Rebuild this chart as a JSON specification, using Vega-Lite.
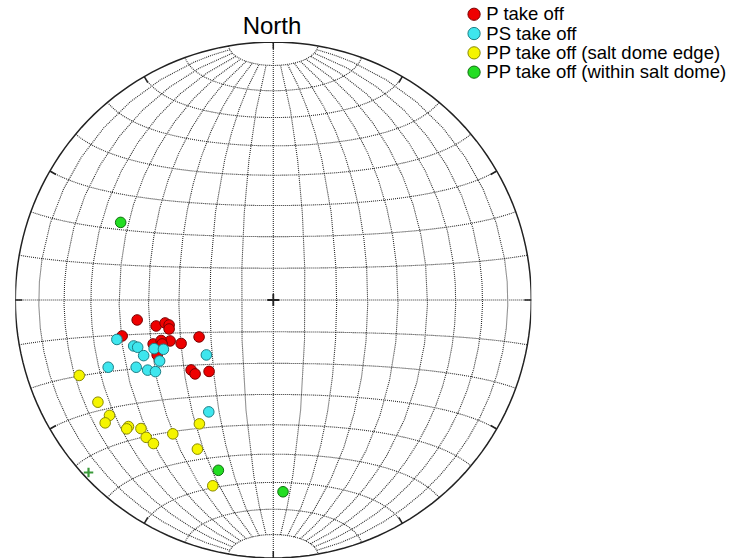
{
  "$schema": "https://vega.github.io/schema/vega-lite/v6.json",
  "width": 516,
  "height": 516,
  "autosize": "none",
  "padding": {"left": 15.3, "top": 42, "right": 200.7, "bottom": 2},
  "background": "white",
  "config": {"view": {"stroke": null}, "font": "Liberation Sans"},
  "projection": {"type": "azimuthalEqualArea", "clipAngle": 90, "scale": 182.43, "translate": [258, 258]},
  "datasets": {
    "ticks": [
      {"x": 0, "y": 1, "x2": 0, "y2": 0.973},
      {"x": 0.5, "y": 0.866, "x2": 0.4865, "y2": 0.8426},
      {"x": 0.866, "y": 0.5, "x2": 0.8426, "y2": 0.4865},
      {"x": 1, "y": 0, "x2": 0.973, "y2": 0},
      {"x": 0.866, "y": -0.5, "x2": 0.8426, "y2": -0.4865},
      {"x": 0.5, "y": -0.866, "x2": 0.4865, "y2": -0.8426},
      {"x": 0, "y": -1, "x2": 0, "y2": -0.973},
      {"x": -0.5, "y": -0.866, "x2": -0.4865, "y2": -0.8426},
      {"x": -0.866, "y": -0.5, "x2": -0.8426, "y2": -0.4865},
      {"x": -1, "y": 0, "x2": -0.973, "y2": 0},
      {"x": -0.866, "y": 0.5, "x2": -0.8426, "y2": 0.4865},
      {"x": -0.5, "y": 0.866, "x2": -0.4865, "y2": 0.8426}
    ],
    "points": [
      {"series": "P take off", "x": -0.5277, "y": -0.0774},
      {"series": "P take off", "x": -0.4541, "y": -0.1007},
      {"series": "P take off", "x": -0.4193, "y": -0.0890},
      {"series": "P take off", "x": -0.4038, "y": -0.0968},
      {"series": "P take off", "x": -0.4038, "y": -0.1123},
      {"series": "P take off", "x": -0.5858, "y": -0.1394},
      {"series": "P take off", "x": -0.2877, "y": -0.1432},
      {"series": "P take off", "x": -0.3999, "y": -0.1587},
      {"series": "P take off", "x": -0.3573, "y": -0.1684},
      {"series": "P take off", "x": -0.4657, "y": -0.1703},
      {"series": "P take off", "x": -0.4348, "y": -0.1568},
      {"series": "P take off", "x": -0.4309, "y": -0.1703},
      {"series": "P take off", "x": -0.4502, "y": -0.2129},
      {"series": "P take off", "x": -0.3186, "y": -0.2710},
      {"series": "P take off", "x": -0.3031, "y": -0.2865},
      {"series": "P take off", "x": -0.2489, "y": -0.2768},
      {"series": "PS take off", "x": -0.6063, "y": -0.1529},
      {"series": "PS take off", "x": -0.5412, "y": -0.1781},
      {"series": "PS take off", "x": -0.5257, "y": -0.1831},
      {"series": "PS take off", "x": -0.5025, "y": -0.2156},
      {"series": "PS take off", "x": -0.4619, "y": -0.1885},
      {"series": "PS take off", "x": -0.4259, "y": -0.1909},
      {"series": "PS take off", "x": -0.4406, "y": -0.2362},
      {"series": "PS take off", "x": -0.2594, "y": -0.2129},
      {"series": "PS take off", "x": -0.6400, "y": -0.2606},
      {"series": "PS take off", "x": -0.5315, "y": -0.2606},
      {"series": "PS take off", "x": -0.4870, "y": -0.2718},
      {"series": "PS take off", "x": -0.4568, "y": -0.2776},
      {"series": "PS take off", "x": -0.2501, "y": -0.4336},
      {"series": "PP take off (salt dome edge)", "x": -0.7522, "y": -0.2923},
      {"series": "PP take off (salt dome edge)", "x": -0.6798, "y": -0.3961},
      {"series": "PP take off (salt dome edge)", "x": -0.6349, "y": -0.4472},
      {"series": "PP take off (salt dome edge)", "x": -0.6516, "y": -0.4762},
      {"series": "PP take off (salt dome edge)", "x": -0.5614, "y": -0.4905},
      {"series": "PP take off (salt dome edge)", "x": -0.5683, "y": -0.4994},
      {"series": "PP take off (salt dome edge)", "x": -0.5130, "y": -0.4983},
      {"series": "PP take off (salt dome edge)", "x": -0.4928, "y": -0.5323},
      {"series": "PP take off (salt dome edge)", "x": -0.4646, "y": -0.5563},
      {"series": "PP take off (salt dome edge)", "x": -0.3895, "y": -0.5188},
      {"series": "PP take off (salt dome edge)", "x": -0.2865, "y": -0.4801},
      {"series": "PP take off (salt dome edge)", "x": -0.2942, "y": -0.5780},
      {"series": "PP take off (salt dome edge)", "x": -0.2346, "y": -0.7201},
      {"series": "PP take off (within salt dome)", "x": -0.5916, "y": 0.3008},
      {"series": "PP take off (within salt dome)", "x": -0.2129, "y": -0.6601},
      {"series": "PP take off (within salt dome)", "x": 0.0376, "y": -0.7433}
    ],
    "centre": [{"x": 0, "y": 0}],
    "marker": [{"x": -0.7162, "y": -0.6686}],
    "heading": [{"x": -0.005, "y": 1.0325, "label": "North"}]
  },
  "layer": [
    {
      "data": {"graticule": true},
      "mark": {"type": "geoshape", "filled": false, "fill": null, "stroke": "#2a2a2a", "strokeWidth": 1.1, "strokeDash": [1, 1]}
    },
    {
      "data": {"sphere": true},
      "mark": {"type": "geoshape", "filled": false, "fill": null, "stroke": "#222222", "strokeWidth": 1.5}
    },
    {
      "data": {"name": "ticks"},
      "mark": {"type": "rule", "stroke": "#222222", "strokeWidth": 1.5},
      "encoding": {
        "x": {"field": "x", "type": "quantitative", "scale": {"domain": [-1, 1], "nice": false, "zero": false}, "axis": null},
        "y": {"field": "y", "type": "quantitative", "scale": {"domain": [-1, 1], "nice": false, "zero": false}, "axis": null},
        "x2": {"field": "x2"},
        "y2": {"field": "y2"}
      }
    },
    {
      "data": {"name": "heading"},
      "mark": {"type": "text", "font": "Liberation Sans", "fontSize": 24, "color": "#000000", "align": "center", "baseline": "alphabetic", "clip": false},
      "encoding": {
        "x": {"field": "x", "type": "quantitative"},
        "y": {"field": "y", "type": "quantitative"},
        "text": {"field": "label"}
      }
    },
    {
      "data": {"name": "centre"},
      "mark": {"type": "point", "shape": "M-1,0L1,0M0,-1L0,1", "size": 144, "filled": false, "stroke": "#222222", "strokeWidth": 1.8, "opacity": 1},
      "encoding": {
        "x": {"field": "x", "type": "quantitative"},
        "y": {"field": "y", "type": "quantitative"}
      }
    },
    {
      "data": {"name": "marker"},
      "mark": {"type": "point", "shape": "M-1,0L1,0M0,-1L0,1", "size": 90, "filled": false, "stroke": "#3a9a3a", "strokeWidth": 2.2, "opacity": 1},
      "encoding": {
        "x": {"field": "x", "type": "quantitative"},
        "y": {"field": "y", "type": "quantitative"}
      }
    },
    {
      "data": {"name": "points"},
      "mark": {"type": "circle", "size": 112, "strokeWidth": 1, "opacity": 1},
      "encoding": {
        "x": {"field": "x", "type": "quantitative"},
        "y": {"field": "y", "type": "quantitative"},
        "fill": {
          "field": "series", "type": "nominal",
          "scale": {"domain": ["P take off", "PS take off", "PP take off (salt dome edge)", "PP take off (within salt dome)"], "range": ["#ee0000", "#3ee6ee", "#f5f500", "#22dd22"]},
          "legend": {"title": null, "orient": "none", "legendX": 449.5, "legendY": -37, "symbolSize": 150, "symbolType": "circle", "labelFontSize": 18.5, "labelFont": "Liberation Sans", "labelColor": "#000000", "labelOffset": 3, "labelLimit": 400, "rowPadding": 0.3, "padding": 0, "symbolStrokeWidth": 1}
        },
        "stroke": {
          "field": "series", "type": "nominal",
          "scale": {"domain": ["P take off", "PS take off", "PP take off (salt dome edge)", "PP take off (within salt dome)"], "range": ["#7a0000", "#1d7f86", "#8a8a00", "#0f6f0f"]},
          "legend": {"title": null}
        }
      }
    }
  ]
}
